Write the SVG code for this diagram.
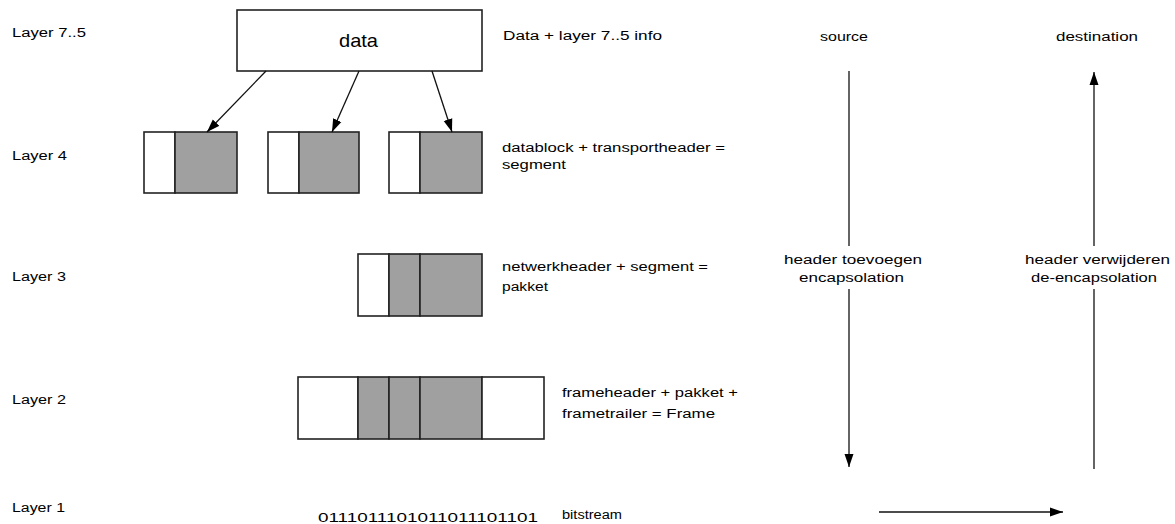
<svg xmlns="http://www.w3.org/2000/svg" width="1175" height="524" viewBox="0 0 1175 524">
  <style>
    .lbl { font-family: "Liberation Sans", Arial, sans-serif; font-size: 12px; fill: #000; }
    .big { font-family: "Liberation Sans", Arial, sans-serif; font-size: 19px; fill: #000; }
    .box { fill: #fff; stroke: #222; stroke-width: 1.6; }
    .pay { fill: #a0a0a0; stroke: #222; stroke-width: 1.6; }
    .wire { fill: none; stroke: #111; stroke-width: 1.3; }
    .gap { fill: #fff; stroke: none; }
  </style>
  <defs>
    <marker id="head" markerUnits="userSpaceOnUse" markerWidth="14" markerHeight="10" refX="13" refY="5" orient="auto">
      <path d="M0,0.5 L13,5 L0,9.5 z" fill="#000"/>
    </marker>
  </defs>
  <rect width="1175" height="524" fill="#fff"/>

  <!-- layer captions -->
  <g id="layer-captions">
    <text class="lbl" x="12" y="37" textLength="74" lengthAdjust="spacingAndGlyphs">Layer 7..5</text>
    <text class="lbl" x="12" y="160" textLength="55" lengthAdjust="spacingAndGlyphs">Layer 4</text>
    <text class="lbl" x="12" y="281" textLength="54" lengthAdjust="spacingAndGlyphs">Layer 3</text>
    <text class="lbl" x="12" y="404" textLength="54" lengthAdjust="spacingAndGlyphs">Layer 2</text>
    <text class="lbl" x="12" y="512" textLength="53" lengthAdjust="spacingAndGlyphs">Layer 1</text>
  </g>

  <!-- layer 7..5: application data -->
  <g id="data">
    <rect class="box" x="237" y="10" width="245" height="61"/>
    <text class="big" x="339" y="47" textLength="39" lengthAdjust="spacingAndGlyphs">data</text>
  </g>
  <text class="lbl" x="503" y="40" textLength="159" lengthAdjust="spacingAndGlyphs">Data + layer 7..5 info</text>

  <!-- layer 4: segments -->
  <g id="segment-1">
    <rect class="box" x="144" y="132" width="31" height="61"/>
    <rect class="pay" x="175" y="132" width="62" height="61"/>
  </g>
  <g id="segment-2">
    <rect class="box" x="268" y="132" width="31" height="61"/>
    <rect class="pay" x="299" y="132" width="60" height="61"/>
  </g>
  <g id="segment-3">
    <rect class="box" x="389" y="132" width="31" height="61"/>
    <rect class="pay" x="420" y="132" width="62" height="61"/>
  </g>
  <text class="lbl" x="502" y="152" textLength="223" lengthAdjust="spacingAndGlyphs">datablock + transportheader =</text>
  <text class="lbl" x="502" y="169" textLength="64" lengthAdjust="spacingAndGlyphs">segment</text>

  <!-- layer 3: packet -->
  <g id="packet">
    <rect class="box" x="358" y="254" width="31" height="62"/>
    <rect class="pay" x="389" y="254" width="31" height="62"/>
    <rect class="pay" x="420" y="254" width="62" height="62"/>
  </g>
  <text class="lbl" x="502" y="271" textLength="206" lengthAdjust="spacingAndGlyphs">netwerkheader + segment =</text>
  <text class="lbl" x="502" y="291" textLength="46" lengthAdjust="spacingAndGlyphs">pakket</text>

  <!-- layer 2: frame -->
  <g id="frame">
    <rect class="box" x="298" y="377" width="60" height="62"/>
    <rect class="pay" x="358" y="377" width="31" height="62"/>
    <rect class="pay" x="389" y="377" width="31" height="62"/>
    <rect class="pay" x="420" y="377" width="62" height="62"/>
    <rect class="box" x="482" y="377" width="62" height="62"/>
  </g>
  <text class="lbl" x="562" y="397" textLength="176" lengthAdjust="spacingAndGlyphs">frameheader + pakket +</text>
  <text class="lbl" x="562" y="418" textLength="153" lengthAdjust="spacingAndGlyphs">frametrailer = Frame</text>

  <!-- layer 1: bits -->
  <g id="bits">
    <text class="lbl" x="318" y="522" font-size="13" textLength="220" lengthAdjust="spacingAndGlyphs">0111011101011011101101</text>
  </g>
  <text class="lbl" x="562" y="519" textLength="60" lengthAdjust="spacingAndGlyphs">bitstream</text>

  <!-- direction headings -->
  <text class="lbl" x="820" y="41" textLength="48" lengthAdjust="spacingAndGlyphs">source</text>
  <text class="lbl" x="1056" y="41" textLength="82" lengthAdjust="spacingAndGlyphs">destination</text>

  <!-- connectors -->
  <g id="connectors">
    <line class="wire" x1="266" y1="71" x2="207" y2="132" marker-end="url(#head)"/>
    <line class="wire" x1="359" y1="71" x2="332" y2="132" marker-end="url(#head)"/>
    <line class="wire" x1="432" y1="71" x2="452" y2="132" marker-end="url(#head)"/>
    <line class="wire" x1="849" y1="71" x2="849" y2="467" marker-end="url(#head)"/>
    <line class="wire" x1="1094" y1="469" x2="1094" y2="72" marker-end="url(#head)"/>
    <line class="wire" x1="879" y1="512" x2="1063" y2="512" marker-end="url(#head)"/>
  </g>

  <!-- labels sitting on the vertical flows -->
  <g id="encapsulation-label">
    <rect class="gap" x="782" y="246" width="142" height="43"/>
    <text class="lbl" x="784" y="264" textLength="138" lengthAdjust="spacingAndGlyphs">header toevoegen</text>
    <text class="lbl" x="799" y="282" textLength="105" lengthAdjust="spacingAndGlyphs">encapsolation</text>
  </g>
  <g id="decapsulation-label">
    <rect class="gap" x="1023" y="246" width="150" height="43"/>
    <text class="lbl" x="1025" y="264" textLength="145" lengthAdjust="spacingAndGlyphs">header verwijderen</text>
    <text class="lbl" x="1031" y="282" textLength="126" lengthAdjust="spacingAndGlyphs">de-encapsolation</text>
  </g>
</svg>
